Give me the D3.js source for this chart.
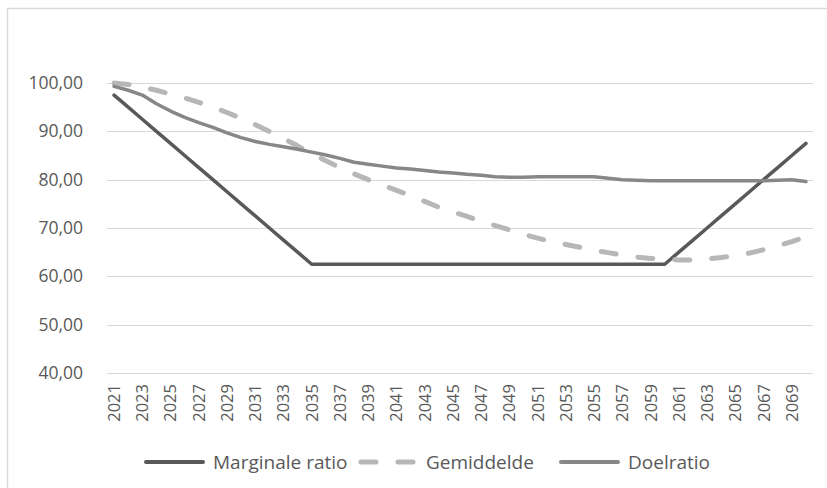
<!DOCTYPE html>
<html>
<head>
<meta charset="utf-8">
<script src="https://cdn.jsdelivr.net/npm/d3@7"></script>
<style>
  html, body { margin: 0; padding: 0; background: #fff; }
  svg { display: block; font-family: "Open Sans", sans-serif; }
</style>
</head>
<body>
<svg id="chart" width="827" height="488"></svg>
<script>
// years 2021..2070
const years = [
  2021, 2022, 2023, 2024, 2025, 2026, 2027, 2028, 2029, 2030,
  2031, 2032, 2033, 2034, 2035, 2036, 2037, 2038, 2039, 2040,
  2041, 2042, 2043, 2044, 2045, 2046, 2047, 2048, 2049, 2050,
  2051, 2052, 2053, 2054, 2055, 2056, 2057, 2058, 2059, 2060,
  2061, 2062, 2063, 2064, 2065, 2066, 2067, 2068, 2069, 2070
];

const marginale = [
  97.5, 95.0, 92.5, 90.0, 87.5, 85.0, 82.5, 80.0, 77.5, 75.0,
  72.5, 70.0, 67.5, 65.0, 62.5, 62.5, 62.5, 62.5, 62.5, 62.5,
  62.5, 62.5, 62.5, 62.5, 62.5, 62.5, 62.5, 62.5, 62.5, 62.5,
  62.5, 62.5, 62.5, 62.5, 62.5, 62.5, 62.5, 62.5, 62.5, 62.5,
  65.0, 67.5, 70.0, 72.5, 75.0, 77.5, 80.0, 82.5, 85.0, 87.5
];

const gemiddelde = [
  100.0, 99.7, 99.1, 98.5, 97.7, 96.9, 96.0, 95.0, 93.9, 92.7,
  91.4, 90.0, 88.5, 87.0, 85.4, 83.9, 82.5, 81.2, 80.0, 78.9,
  77.8, 76.7, 75.5, 74.3, 73.3, 72.4, 71.4, 70.5, 69.6, 68.7,
  67.9, 67.2, 66.6, 66.0, 65.4, 64.9, 64.4, 64.0, 63.7, 63.5,
  63.4, 63.4, 63.6, 63.9, 64.3, 64.8, 65.5, 66.3, 67.2, 68.2
];

const doelratio = [
  99.3, 98.5, 97.5, 95.7, 94.2, 92.9, 91.8, 90.8, 89.7, 88.7,
  87.9, 87.3, 86.8, 86.3, 85.7, 85.1, 84.4, 83.6, 83.2, 82.8,
  82.4, 82.2, 81.9, 81.6, 81.4, 81.1, 80.9, 80.6, 80.5, 80.5,
  80.6, 80.6, 80.6, 80.6, 80.6, 80.3, 80.0, 79.9, 79.8, 79.8,
  79.8, 79.8, 79.8, 79.8, 79.8, 79.8, 79.8, 79.9, 80.0, 79.6
];

const yTicks = [40, 50, 60, 70, 80, 90, 100];

const series = [
  { name: 'Marginale ratio', values: marginale, color: '#595959', width: 3.5, dash: null },
  { name: 'Gemiddelde', values: gemiddelde, color: '#b7b7b7', width: 5, dash: '15 22' },
  { name: 'Doelratio', values: doelratio, color: '#878787', width: 3.5, dash: null }
];

const svg = d3.select('#chart');
const plot = { left: 107, right: 813, top: 83, bottom: 373 };

// chart border (right/bottom edges fall outside the picture)
svg.append('rect')
  .attr('x', 7.5).attr('y', 8.5)
  .attr('width', 900).attr('height', 600)
  .attr('fill', 'none')
  .attr('stroke', '#d9d9d9')
  .attr('stroke-width', 1.5);

const x = d3.scaleBand().domain(years).range([plot.left, plot.right]);
const y = d3.scaleLinear().domain([40, 100]).range([plot.bottom, plot.top]);

// gridlines
svg.append('g')
  .selectAll('line')
  .data(yTicks)
  .join('line')
  .attr('x1', plot.left).attr('x2', plot.right)
  .attr('y1', d => Math.round(y(d)) + 0.5)
  .attr('y2', d => Math.round(y(d)) + 0.5)
  .attr('stroke', '#d9d9d9')
  .attr('stroke-width', 1);

// y axis labels
const yAxis = d3.axisLeft(y)
  .tickValues(yTicks)
  .tickSize(0)
  .tickPadding(24)
  .tickFormat(d => d3.format('.2f')(d).replace('.', ','));
const yG = svg.append('g')
  .attr('transform', `translate(${plot.left},0)`)
  .call(yAxis);
yG.select('.domain').remove();
yG.selectAll('text')
  .attr('fill', '#595959')
  .style('font-size', '17.5px')
  .style('font-family', '"Open Sans", sans-serif');

// x axis labels (every other year)
const xAxis = d3.axisBottom(x)
  .tickValues(years.filter((d, i) => i % 2 === 0))
  .tickSize(0)
  .tickPadding(0);
const xG = svg.append('g')
  .attr('transform', `translate(0,${plot.bottom})`)
  .call(xAxis);
xG.select('.domain').remove();
xG.selectAll('text')
  .attr('fill', '#595959')
  .style('font-size', '16.5px')
  .style('font-family', '"Open Sans", sans-serif')
  .attr('text-anchor', 'end')
  .attr('transform', 'rotate(-90)')
  .attr('x', -11)
  .attr('y', 0)
  .attr('dy', '0.36em');

// lines
const cx = d => x(d) + x.bandwidth() / 2;
series.forEach(s => {
  const line = d3.line()
    .x((d, i) => cx(years[i]))
    .y(d => y(d));
  svg.append('path')
    .datum(s.values)
    .attr('d', line)
    .attr('fill', 'none')
    .attr('stroke', s.color)
    .attr('stroke-width', s.width)
    .attr('stroke-linejoin', 'round')
    .attr('stroke-linecap', 'round')
    .attr('stroke-dasharray', s.dash);
});

// legend, item offsets as laid out in the original
const legendX = [0, 215, 415];
const legend = svg.append('g').attr('transform', 'translate(146,462)');
series.forEach((s, i) => {
  const g = legend.append('g').attr('transform', `translate(${legendX[i]},0)`);
  g.append('line')
    .attr('x1', 0).attr('x2', 57)
    .attr('y1', 0).attr('y2', 0)
    .attr('stroke', s.color)
    .attr('stroke-width', s.dash ? 5 : 4)
    .attr('stroke-linecap', 'round')
    .attr('stroke-dasharray', s.dash);
  g.append('text')
    .attr('x', i === 1 ? 65 : 67)
    .attr('dy', '0.35em')
    .attr('fill', '#595959')
    .style('font-size', '19px')
    .text(s.name);
});
</script>
</body>
</html>
